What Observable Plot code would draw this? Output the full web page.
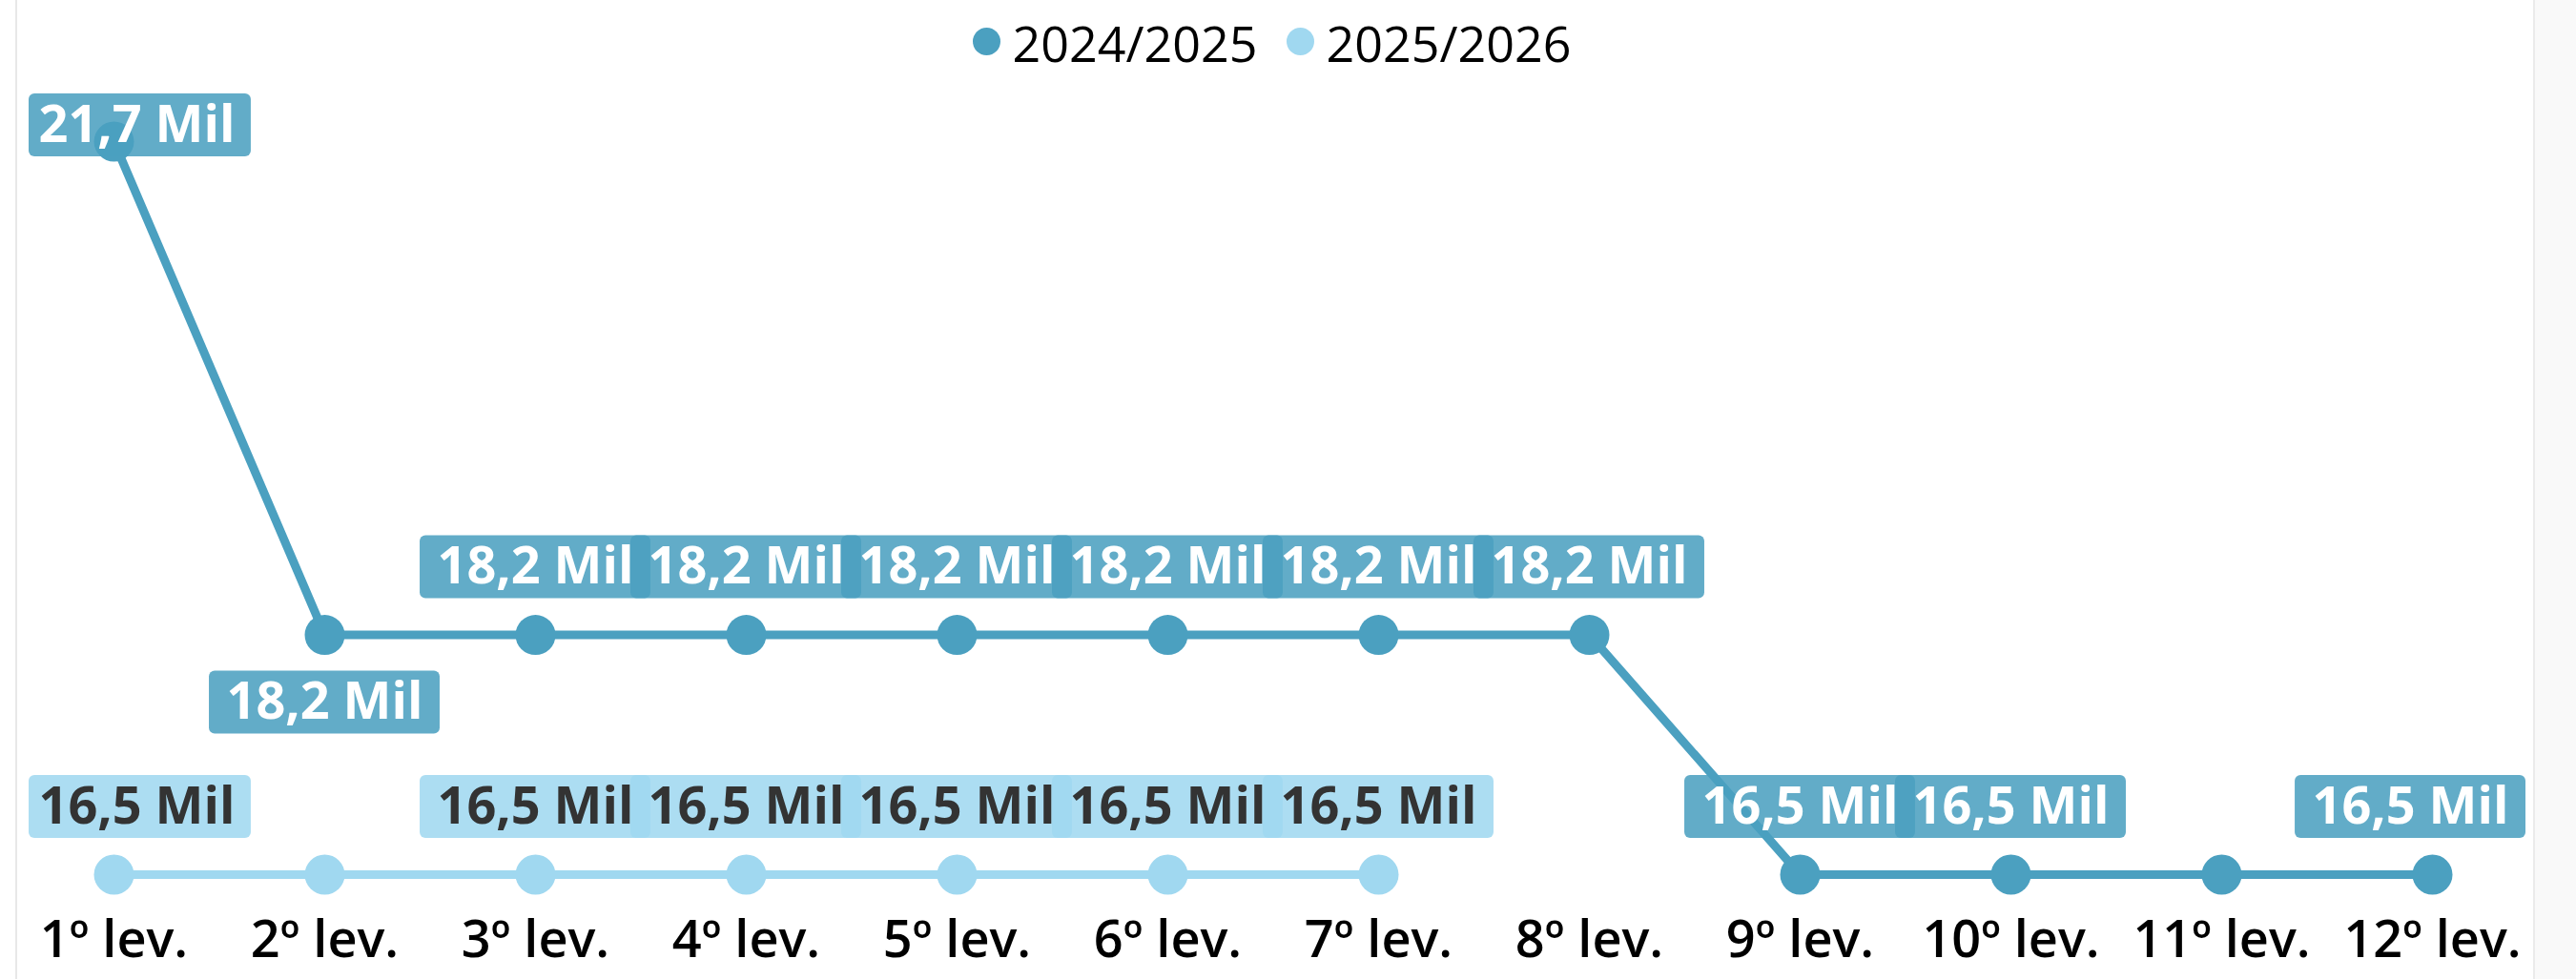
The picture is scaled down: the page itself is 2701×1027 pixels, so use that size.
<!DOCTYPE html>
<html>
<head>
<meta charset="utf-8">
<script src="https://cdn.jsdelivr.net/npm/d3@7"></script>
<script src="https://cdn.jsdelivr.net/npm/@observablehq/plot@0.6"></script>
<style>
  html, body { margin: 0; padding: 0; background: #ffffff; }
  body { width: 2701px; height: 1027px; overflow: hidden; position: relative; font-family: "Open Sans", sans-serif; }
  #leftline { position: absolute; left: 16px; top: 0; width: 2px; height: 1027px; background: #e8e8e8; }
  #rightpanel { position: absolute; left: 2656px; top: 0; width: 45px; height: 1027px; background: #f9f9f9; border-left: 2px solid #ebebeb; box-sizing: border-box; }
  #legend { position: relative; width: 2701px; height: 90px; display: flex; justify-content: center; align-items: center; transform: translateX(-17px); }
  .item { display: flex; align-items: center; font-size: 52px; color: #000; margin: 0 15px; line-height: 1; }
  .swatch { width: 29px; height: 29px; border-radius: 50%; margin-right: 13px; margin-top: -4px; }
  #chart { position: relative; }
</style>
</head>
<body>
<div id="leftline"></div>
<div id="rightpanel"></div>
<div id="legend"></div>
<div id="chart"></div>
<script>
// ---- data ----
const levels = ["1º lev.", "2º lev.", "3º lev.", "4º lev.", "5º lev.", "6º lev.", "7º lev.", "8º lev.", "9º lev.", "10º lev.", "11º lev.", "12º lev."];
const series = ["2024/2025", "2025/2026"];
const values2024 = [21700, 18200, 18200, 18200, 18200, 18200, 18200, 18200, 16500, 16500, 16500, 16500];
const values2025 = [16500, 16500, 16500, 16500, 16500, 16500, 16500];
const seriesColors = ["#4ba0c0", "#a0d8f0"];
const labelTextColors = ["#ffffff", "#333333"];
const hiddenLabels = { "2024/2025": ["11º lev."], "2025/2026": ["2º lev."] };
const belowLabels = { "2024/2025": ["2º lev."], "2025/2026": [] };

const fmt = v => (v / 1000).toFixed(1).replace(".", ",") + " Mil";

const data = [
  ...values2024.map((v, i) => ({ series: series[0], level: levels[i], value: v })),
  ...values2025.map((v, i) => ({ series: series[1], level: levels[i], value: v }))
];

// ---- legend ----
const legend = document.getElementById("legend");
series.forEach((s, i) => {
  const item = document.createElement("span");
  item.className = "item";
  const sw = document.createElement("span");
  sw.className = "swatch";
  sw.style.background = seriesColors[i];
  item.appendChild(sw);
  item.appendChild(document.createTextNode(s));
  legend.appendChild(item);
});

// ---- label groups ----
const LABEL_DY = 71;
const labelSets = [];
series.forEach((s, si) => {
  const rows = data.filter(d => d.series === s && !hiddenLabels[s].includes(d.level));
  const up = rows.filter(d => !belowLabels[s].includes(d.level));
  const down = rows.filter(d => belowLabels[s].includes(d.level));
  if (up.length) labelSets.push({ name: `lbl-${si}-up`, rows: up, dy: -LABEL_DY, si });
  if (down.length) labelSets.push({ name: `lbl-${si}-down`, rows: down, dy: LABEL_DY, si });
});

const labelMarks = labelSets.map(set => Plot.text(set.rows, {
  x: "level", y: "value", text: d => fmt(d.value), dy: set.dy,
  fill: labelTextColors[set.si], fontSize: 54, fontWeight: 700,
  lineAnchor: "middle", className: set.name
}));

const plot = Plot.plot({
  width: 2701, height: 937,
  marginLeft: 0, marginRight: 0, marginTop: 0, marginBottom: 62,
  x: { type: "point", domain: levels, range: [117, 2551], padding: 0, label: null },
  y: { domain: [16500, 21700], range: [827, 58], axis: null },
  color: { domain: series, range: seriesColors },
  style: { fontFamily: "Open Sans", background: "transparent", overflow: "visible" },
  marks: [
    Plot.axisX({ tickSize: 0, tickPadding: 0, fontSize: 54, fontWeight: 600, fill: "#000", label: null }),
    Plot.line(data, { x: "level", y: "value", z: "series", stroke: "series", strokeWidth: 9 }),
    Plot.dot(data, { x: "level", y: "value", fill: "series", r: 21 }),
    ...labelMarks
  ]
});
document.getElementById("chart").appendChild(plot);

// ---- label boxes (sized from rendered text, positioned via the plot's scales) ----
const xs = plot.scale("x"), ys = plot.scale("y");
const BOX_H = 66, PAD = 18, LEFT = 30, RIGHT = 2648, TOP = 8;
const NS = "http://www.w3.org/2000/svg";
labelSets.forEach(set => {
  const g = plot.querySelector(`.${set.name}`);
  if (!g) return;
  const texts = g.tagName.toLowerCase() === "text" ? [g] : g.querySelectorAll("text");
  const rg = document.createElementNS(NS, "g");
  g.parentNode.insertBefore(rg, g);
  set.rows.forEach((d, i) => {
    const t = texts[i];
    if (!t) return;
    const tw = t.getBBox().width;
    const cx = xs.apply(d.level);
    const cy = ys.apply(d.value) + set.dy;
    let w = tw + 2 * PAD;
    let left = cx - w / 2, top = cy - BOX_H / 2;
    let sx = 0, sy = 0;
    if (left < LEFT) {
      const textLeft = LEFT + 10;
      sx = textLeft - (cx - tw / 2);
      left = LEFT;
      w = 10 + tw + 17;
    } else if (left + w > RIGHT) {
      sx = RIGHT - (left + w);
      left += sx;
    }
    if (top < TOP) { sy = TOP - top; top = TOP; }
    const r = document.createElementNS(NS, "rect");
    r.setAttribute("x", left);
    r.setAttribute("y", top);
    r.setAttribute("width", w);
    r.setAttribute("height", BOX_H);
    r.setAttribute("rx", 6);
    r.setAttribute("fill", seriesColors[set.si]);
    r.setAttribute("fill-opacity", 0.87);
    rg.appendChild(r);
    if (sx || sy) {
      const tr = t.getAttribute("transform") || "";
      t.setAttribute("transform", `${tr} translate(${sx},${sy})`);
    }
  });
});
</script>
</body>
</html>
